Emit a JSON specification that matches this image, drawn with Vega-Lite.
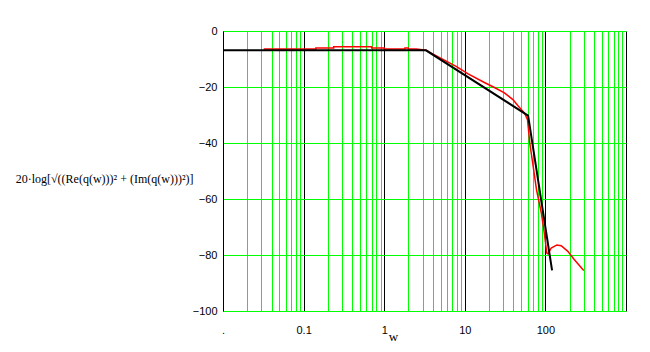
{
  "$schema": "https://vega.github.io/schema/vega-lite/v6.json",
  "width": 403,
  "height": 280,
  "autosize": {"type": "none"},
  "padding": {"left": 223, "top": 31, "right": 24, "bottom": 41},
  "background": "white",
  "config": {"view": {"stroke": null}},
  "data": {"values": [
    {"s": "red", "o": 1, "w": 0.032, "db": -6.4},
    {"s": "red", "o": 2, "w": 0.142, "db": -6.4},
    {"s": "red", "o": 3, "w": 0.142, "db": -6.1},
    {"s": "red", "o": 4, "w": 0.236, "db": -6.1},
    {"s": "red", "o": 5, "w": 0.236, "db": -5.6},
    {"s": "red", "o": 6, "w": 0.70, "db": -5.6},
    {"s": "red", "o": 7, "w": 0.70, "db": -6.1},
    {"s": "red", "o": 8, "w": 1.0, "db": -6.1},
    {"s": "red", "o": 9, "w": 1.0, "db": -6.4},
    {"s": "red", "o": 10, "w": 1.81, "db": -6.4},
    {"s": "red", "o": 11, "w": 1.81, "db": -6.1},
    {"s": "red", "o": 12, "w": 1.99, "db": -6.1},
    {"s": "red", "o": 13, "w": 1.99, "db": -6.4},
    {"s": "red", "o": 14, "w": 2.5, "db": -6.4},
    {"s": "red", "o": 15, "w": 3.3, "db": -6.9},
    {"s": "red", "o": 16, "w": 4.2, "db": -8.5},
    {"s": "red", "o": 17, "w": 5.5, "db": -10.3},
    {"s": "red", "o": 18, "w": 7.8, "db": -12.6},
    {"s": "red", "o": 19, "w": 11, "db": -15.3},
    {"s": "red", "o": 20, "w": 17.5, "db": -18.4},
    {"s": "red", "o": 21, "w": 23, "db": -20.1},
    {"s": "red", "o": 22, "w": 31, "db": -22.1},
    {"s": "red", "o": 23, "w": 39.5, "db": -24.5},
    {"s": "red", "o": 24, "w": 46, "db": -26.8},
    {"s": "red", "o": 25, "w": 55, "db": -29.3},
    {"s": "red", "o": 26, "w": 60, "db": -31.7},
    {"s": "red", "o": 27, "w": 64, "db": -40},
    {"s": "red", "o": 28, "w": 70.6, "db": -48.4},
    {"s": "red", "o": 29, "w": 77.6, "db": -56.7},
    {"s": "red", "o": 30, "w": 81.4, "db": -59.6},
    {"s": "red", "o": 31, "w": 89, "db": -65},
    {"s": "red", "o": 32, "w": 97, "db": -72.1},
    {"s": "red", "o": 33, "w": 104, "db": -79.3},
    {"s": "red", "o": 34, "w": 108, "db": -79.6},
    {"s": "red", "o": 35, "w": 118, "db": -77.5},
    {"s": "red", "o": 36, "w": 139, "db": -76.4},
    {"s": "red", "o": 37, "w": 157, "db": -76.7},
    {"s": "red", "o": 38, "w": 190, "db": -78.7},
    {"s": "red", "o": 39, "w": 229, "db": -81.7},
    {"s": "red", "o": 40, "w": 299, "db": -85.5},
    {"s": "black", "o": 1, "w": 0.01, "db": -6.9},
    {"s": "black", "o": 2, "w": 3.3, "db": -6.9},
    {"s": "black", "o": 3, "w": 61, "db": -30.2},
    {"s": "black", "o": 4, "w": 121, "db": -85.5}
  ]},
  "encoding": {
    "x": {
      "field": "w", "type": "quantitative",
      "scale": {"type": "log", "domain": [0.01, 1000], "nice": false},
      "axis": {
        "title": "w",
        "titleFont": "Liberation Serif", "titleFontSize": 13, "titleFontWeight": "normal",
        "titleX": 170, "titleY": 25, "titleBaseline": "middle", "titleAlign": "center",
        "values": [0.01,0.02,0.03,0.04,0.05,0.06,0.07,0.08,0.09,0.1,0.2,0.3,0.4,0.5,0.6,0.7,0.8,0.9,1,2,3,4,5,6,7,8,9,10,20,30,40,50,60,70,80,90,100,200,300,400,500,600,700,800,900,1000],
        "labelExpr": "datum.value == 0.01 ? '.' : datum.value == 0.1 ? '0.1' : datum.value == 1 ? '1' : datum.value == 10 ? '10' : datum.value == 100 ? '100' : ''",
        "labelFont": "Liberation Sans", "labelFontSize": 11, "labelColor": "black",
        "labelPadding": 13, "labelOverlap": false, "labelFlush": false,
        "ticks": false, "domain": false,
        "grid": true, "gridOpacity": 1, "gridWidth": 1,
        "gridColor": {"condition": {"test": "datum.value == 0.01 || datum.value == 0.1 || datum.value == 1 || datum.value == 10 || datum.value == 100 || datum.value == 1000", "value": "black"}, "value": "#00ff00"}
      }
    },
    "y": {
      "field": "db", "type": "quantitative",
      "scale": {"domain": [-100, 0], "nice": false},
      "axis": {
        "title": "20·log[√((Re(q(w)))² + (Im(q(w)))²)]",
        "titleAngle": 0, "titleAlign": "right", "titleBaseline": "middle",
        "titleX": -30, "titleY": 147,
        "titleFont": "Liberation Serif", "titleFontSize": 12, "titleFontWeight": "normal",
        "values": [0, -20, -40, -60, -80, -100],
        "labelFont": "Liberation Sans", "labelFontSize": 11, "labelColor": "black",
        "labelPadding": 6, "ticks": false,
        "domain": true, "domainColor": "black", "domainWidth": 1,
        "grid": true, "gridColor": "#00ff00", "gridOpacity": 1, "gridWidth": 1
      }
    },
    "order": {"field": "o", "type": "quantitative"}
  },
  "layer": [
    {"transform": [{"filter": "datum.s == 'red'"}], "mark": {"type": "line", "color": "#ff0000", "strokeWidth": 1.5}},
    {"transform": [{"filter": "datum.s == 'black'"}], "mark": {"type": "line", "color": "black", "strokeWidth": 2}}
  ]
}
